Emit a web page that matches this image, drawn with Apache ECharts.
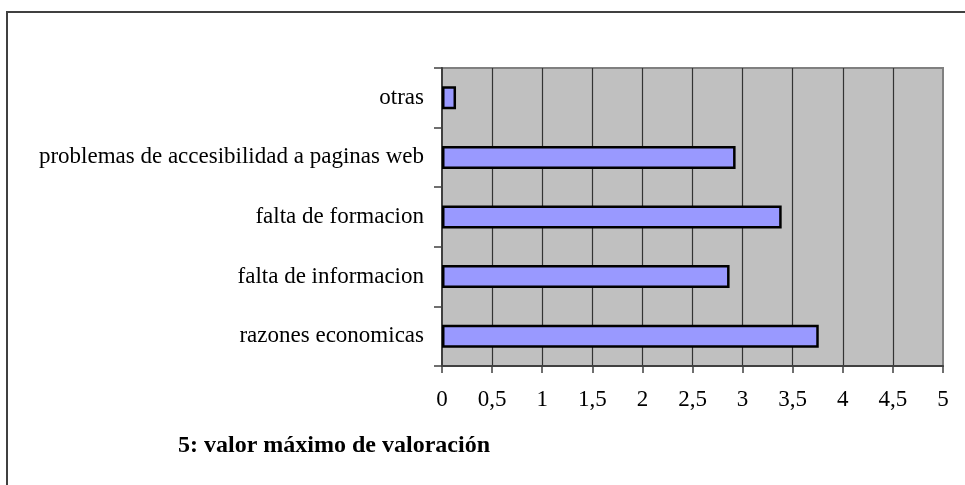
<!DOCTYPE html>
<html>
<head>
<meta charset="utf-8">
<script src="https://cdn.jsdelivr.net/npm/echarts@6/dist/echarts.min.js"></script>
<style>
  html, body { margin: 0; padding: 0; background: #fff; }
  #chart { width: 965px; height: 485px; }
</style>
</head>
<body>
<div id="chart"></div>
<script>
// categorias de abajo hacia arriba
var categorias = ['razones economicas', 'falta de informacion', 'falta de formacion',
                  'problemas de accesibilidad a paginas web', 'otras'];
var valores = [3.76, 2.87, 3.39, 2.93, 0.14];
var notaPie = '5: valor máximo de valoración';

var chart = echarts.init(document.getElementById('chart'));
var fuente = '"Liberation Serif", "Times New Roman", serif';

var option = {
    animation: false,
    backgroundColor: '#fff',
    textStyle: { fontFamily: fuente },
    grid: {
        left: 442,
        top: 68,
        width: 501,
        height: 298,
        show: true,
        backgroundColor: '#c0c0c0',
        borderColor: '#808080',
        borderWidth: 2
    },
    xAxis: {
        type: 'value',
        min: 0,
        max: 5,
        interval: 0.5,
        axisLine: { show: true, lineStyle: { color: '#404040', width: 2 } },
        axisTick: { show: true, length: 7, lineStyle: { color: '#404040', width: 1.5 } },
        axisLabel: {
            margin: 22,
            color: '#000',
            fontSize: 23,
            fontFamily: fuente,
            formatter: function (v) { return String(v).replace('.', ','); }
        },
        splitLine: {
            show: true,
            showMinLine: false,
            showMaxLine: false,
            lineStyle: { color: '#333', width: 1.2 }
        }
    },
    yAxis: {
        type: 'category',
        data: categorias,
        axisLine: { show: true, lineStyle: { color: '#404040', width: 2 } },
        axisTick: { show: true, length: 8, lineStyle: { color: '#404040', width: 1.5 } },
        axisLabel: { margin: 18, color: '#000', fontSize: 23, fontFamily: fuente },
        splitLine: { show: false }
    },
    series: [{
        type: 'bar',
        data: valores,
        barWidth: 23,
        itemStyle: { color: '#9999ff', borderColor: '#000', borderWidth: 2.5 },
        z: 3
    }],
    graphic: [
        {
            type: 'rect',
            shape: { x: 7, y: 12, width: 1100, height: 1000 },
            style: { fill: 'none', stroke: '#404040', lineWidth: 2 },
            silent: true,
            z: -1
        },
        {
            type: 'text',
            x: 334,
            y: 446,
            style: {
                text: notaPie,
                fill: '#000',
                font: 'bold 24px ' + fuente,
                align: 'center',
                verticalAlign: 'middle'
            }
        }
    ]
};
chart.setOption(option);
</script>
</body>
</html>
